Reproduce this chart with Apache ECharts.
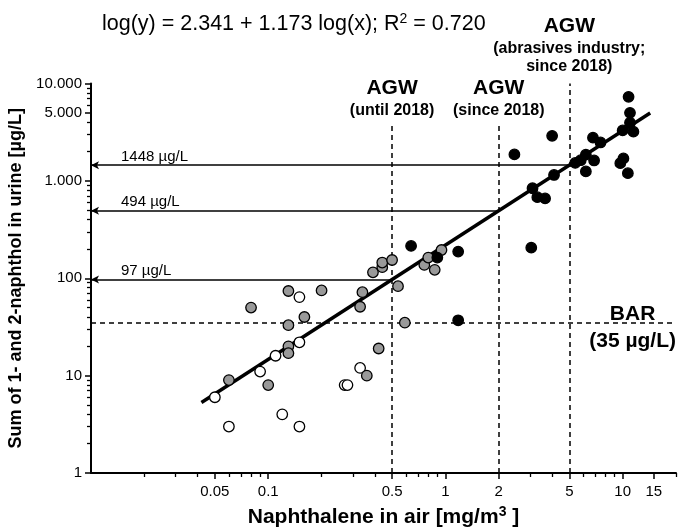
<!DOCTYPE html>
<html>
<head>
<meta charset="utf-8">
<script src="https://cdn.jsdelivr.net/npm/echarts@6/dist/echarts.min.js"></script>
<style>
  html, body { margin: 0; padding: 0; background: #fff; }
  #chart { width: 680px; height: 532px; }
</style>
</head>
<body>
<div id="chart"></div>
<script>
// naphthalene in air [mg/m3], sum of 1- and 2-naphthol in urine [µg/L]
const openPoints = [
  [0.05, 6], [0.06, 3], [0.09, 11], [0.11, 16], [0.12, 4], [0.15, 64],
  [0.15, 22], [0.15, 3], [0.27, 8], [0.28, 8], [0.33, 12]
];
const grayPoints = [
  [0.06, 9], [0.08, 50], [0.1, 8], [0.13, 74], [0.13, 33], [0.13, 20],
  [0.13, 17], [0.16, 40], [0.2, 75], [0.34, 72], [0.33, 51], [0.36, 10],
  [0.42, 19], [0.59, 35], [0.39, 115], [0.44, 130], [0.44, 145], [0.5, 154],
  [0.54, 83], [0.76, 137], [0.8, 163], [0.87, 122], [0.95, 195]
];
const blackPoints = [
  [0.64, 215], [0.9, 163], [1.18, 188], [1.18, 37], [2.45, 1870], [3.05, 206],
  [3.1, 840], [3.3, 680], [3.65, 660], [4.0, 2900], [4.1, 1150], [5.4, 1530],
  [5.8, 1630], [6.2, 1860], [6.9, 1620], [6.2, 1250], [6.8, 2780], [7.5, 2480],
  [9.7, 1520], [10.1, 1700], [10.7, 1200], [10, 3300], [11.5, 3200], [11, 3950],
  [11, 5000], [10.8, 7300]
];
// regression line end points
const fitLine = [[0.042, 5.3], [14.3, 4980]];

const xRange = [0.01, 20];
const yRange = [1, 10000];
const xTicks = [0.05, 0.1, 0.5, 1, 2, 5, 10, 15];
const xMinorTicks = [0.02, 0.03, 0.04, 0.06, 0.07, 0.08, 0.09, 0.2, 0.3, 0.4,
  0.6, 0.7, 0.8, 0.9, 3, 4, 6, 7, 8, 9, 20];
const yTicks = [1, 10, 100, 1000, 5000, 10000];
const yTickLabels = ['1', '10', '100', '1.000', '5.000', '10.000'];
const yMinorTicks = [2, 3, 4, 5, 6, 7, 8, 9, 20, 30, 40, 50, 60, 70, 80, 90,
  200, 300, 400, 500, 600, 700, 800, 900, 2000, 3000, 4000, 6000, 7000, 8000, 9000];

const agwLimits = [0.5, 2, 5];
const agwTops = [4000, 4000, 10000];
const agwLabels = [
  '{a|AGW}\n{b|(until 2018)}',
  '{a|AGW}\n{b|(since 2018)}',
  '{a|AGW}\n{b|(abrasives industry;}\n{b|since 2018)}'
];
const urineLevels = [1448, 494, 97];
const urineEnds = [5, 2, 0.5];
const barLevel = 35;

const FONT = 'Liberation Sans, Arial, sans-serif';
const dash = [5, 4];
const gridBox = { left: 91, right: 4, top: 83.5, bottom: 59, containLabel: false, outerBoundsMode: 'none' };

const arrowLines = urineLevels.map((v, i) => [
  {
    coord: [xRange[0], v], symbol: 'arrow', symbolSize: [6, 8],
    lineStyle: { type: 'solid', width: 1.5 },
    label: { position: 'insideStartTop', distance: [30, 1], formatter: v + ' µg/L', fontSize: 15 }
  },
  { coord: [urineEnds[i], v], symbol: 'none' }
]);

const agwLines = agwLimits.map((x, i) => [
  {
    coord: [x, yRange[0]], symbol: 'none',
    lineStyle: { type: dash, width: 1.5 },
    label: { position: 'end', distance: i === 2 ? 8 : 3, formatter: agwLabels[i] }
  },
  { coord: [x, agwTops[i]], symbol: 'none' }
]);

const barLine = [
  {
    coord: [xRange[0], barLevel], symbol: 'none',
    lineStyle: { type: dash, width: 1.5 },
    label: { position: 'insideEnd', distance: [0, 0], padding: [10, 0, 0, 0], formatter: '{c|BAR}\n{c|(35 µg/L)}' }
  },
  { coord: [xRange[1], barLevel], symbol: 'none' }
];

function yLabel(v) {
  for (let i = 0; i < yTicks.length; i++) {
    if (Math.abs(Math.log10(v) - Math.log10(yTicks[i])) < 1e-6) return yTickLabels[i];
  }
  return '';
}

const pointStyle = (fill) => ({
  type: 'scatter',
  symbolSize: 10.5,
  itemStyle: { color: fill, borderColor: '#000', borderWidth: 1.3, opacity: 1 },
  z: 5
});

// twin axis in an identical grid, only its short ticks are drawn
const minorAxis = (range, ticks, pos) => ({
  type: 'log', logBase: 10, min: range[0], max: range[1], position: pos, gridIndex: 1,
  axisLine: { show: true, lineStyle: { color: 'rgba(0,0,0,0)' } },
  axisTick: { show: true, customValues: ticks, length: 4, lineStyle: { color: '#000', width: 1.3 } },
  axisLabel: { show: false },
  splitLine: { show: false }
});

const chart = echarts.init(document.getElementById('chart'));
chart.setOption({
  animation: false,
  textStyle: { fontFamily: FONT, color: '#000' },
  title: {
    text: 'log(y) = 2.341 + 1.173 log(x); R{sup|2} = 0.720',
    left: 97,
    top: 7,
    textStyle: {
      fontFamily: FONT, fontSize: 21.5, fontWeight: 'normal', color: '#000', lineHeight: 25,
      rich: { sup: { fontFamily: FONT, fontSize: 14, verticalAlign: 'top', lineHeight: 14, color: '#000' } }
    }
  },
  grid: [gridBox, Object.assign({}, gridBox)],
  xAxis: [
    {
      type: 'log', logBase: 10, min: xRange[0], max: xRange[1], gridIndex: 0,
      name: 'Naphthalene in air [mg/m{sup|3} ]',
      nameLocation: 'middle', nameGap: 32,
      nameTextStyle: {
        fontFamily: FONT, fontSize: 21, fontWeight: 'bold', color: '#000', lineHeight: 25,
        rich: { sup: { fontFamily: FONT, fontSize: 14, fontWeight: 'bold', verticalAlign: 'top', lineHeight: 14, color: '#000' } }
      },
      axisLine: { lineStyle: { color: '#000', width: 2 } },
      axisTick: { show: true, customValues: xTicks, length: 6, lineStyle: { color: '#000', width: 1.5 } },
      axisLabel: { customValues: xTicks, margin: 11, fontSize: 15, color: '#000', fontFamily: FONT,
        formatter: (v) => String(+v.toPrecision(6)) },
      splitLine: { show: false },
      minorTick: { show: false }
    },
    minorAxis(xRange, xMinorTicks, 'bottom')
  ],
  yAxis: [
    {
      type: 'log', logBase: 10, min: yRange[0], max: yRange[1], gridIndex: 0,
      name: 'Sum of 1- and 2-naphthol in urine [µg/L]',
      nameLocation: 'middle', nameGap: 52,
      nameTextStyle: { fontFamily: FONT, fontSize: 18, fontWeight: 'bold', color: '#000' },
      axisLine: { show: true, lineStyle: { color: '#000', width: 2 } },
      axisTick: { show: true, customValues: yTicks, length: 6, lineStyle: { color: '#000', width: 1.5 } },
      axisLabel: { customValues: yTicks, margin: 9, fontSize: 15, color: '#000', fontFamily: FONT, formatter: yLabel },
      splitLine: { show: false }
    },
    minorAxis(yRange, yMinorTicks, 'left')
  ],
  series: [
    {
      type: 'line',
      data: fitLine,
      symbol: 'none',
      lineStyle: { color: '#000', width: 3.5 },
      z: 3,
      markLine: {
        silent: true,
        animation: false,
        symbol: ['none', 'none'],
        lineStyle: { color: '#000', width: 1.5 },
        label: {
          color: '#000', fontFamily: FONT, fontSize: 15,
          rich: {
            a: { fontFamily: FONT, fontSize: 21, fontWeight: 'bold', lineHeight: 26, color: '#000', align: 'center' },
            b: { fontFamily: FONT, fontSize: 16, fontWeight: 'bold', lineHeight: 18, color: '#000', align: 'center' },
            c: { fontFamily: FONT, fontSize: 21, fontWeight: 'bold', lineHeight: 27, color: '#000', align: 'center' }
          }
        },
        data: [...arrowLines, ...agwLines, barLine]
      }
    },
    // open circles use the twin grid (same box and scales) so its axes get drawn
    Object.assign(pointStyle('#ffffff'), { name: 'open', data: openPoints, xAxisIndex: 1, yAxisIndex: 1 }),
    Object.assign(pointStyle('#999999'), { name: 'gray', data: grayPoints }),
    Object.assign(pointStyle('#000000'), { name: 'black', data: blackPoints })
  ]
});
</script>
</body>
</html>
